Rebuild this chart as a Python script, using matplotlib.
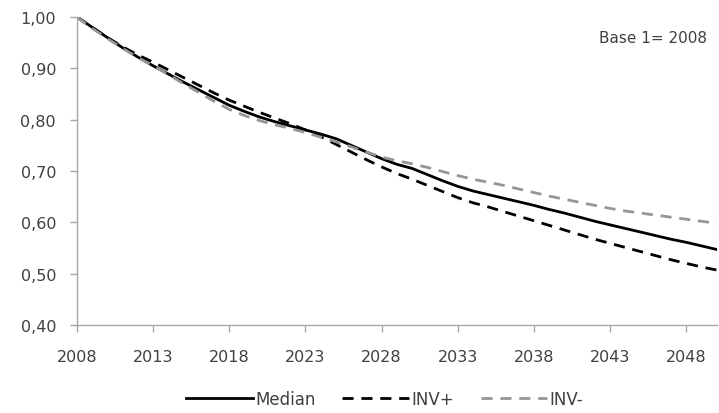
import numpy as np
import matplotlib
matplotlib.use("Agg")
import matplotlib.pyplot as plt

plt.rcParams['font.family'] = ['DejaVu Sans']

years = list(range(2008, 2051))

median = [1.000, 0.980, 0.960, 0.940, 0.922, 0.905, 0.889, 0.873, 0.858, 0.843,
          0.828, 0.816, 0.805, 0.796, 0.788, 0.780, 0.772, 0.763, 0.750, 0.737,
          0.724, 0.713, 0.705, 0.693, 0.681, 0.670, 0.661, 0.654, 0.647, 0.640,
          0.633, 0.625, 0.618, 0.610, 0.602, 0.595, 0.588, 0.581, 0.574, 0.567,
          0.561, 0.554, 0.547]

inv_plus = [1.000, 0.980, 0.960, 0.942, 0.926, 0.912, 0.897, 0.882, 0.867, 0.852,
            0.838, 0.826, 0.814, 0.803, 0.792, 0.780, 0.767, 0.752, 0.737, 0.722,
            0.708, 0.695, 0.684, 0.672, 0.660, 0.648, 0.638, 0.630, 0.621, 0.612,
            0.603, 0.594, 0.585, 0.576, 0.567, 0.559, 0.551, 0.543, 0.535, 0.527,
            0.520, 0.513, 0.507]

inv_minus = [1.000, 0.978, 0.958, 0.939, 0.921, 0.905, 0.888, 0.870, 0.853, 0.836,
             0.820, 0.808, 0.798, 0.790, 0.783, 0.775, 0.766, 0.757, 0.747, 0.737,
             0.727, 0.720, 0.714, 0.707, 0.699, 0.691, 0.684, 0.678, 0.672, 0.665,
             0.658, 0.651, 0.645, 0.639, 0.633, 0.627, 0.622, 0.618, 0.614, 0.610,
             0.606, 0.602, 0.598]

yticks = [0.4, 0.5, 0.6, 0.7, 0.8, 0.9, 1.0]
xticks = list(range(2008, 2051, 5))

txt = '#404040'
axc = '#a6a6a6'

fig = plt.figure(figsize=(7.19, 4.14), dpi=100)
ax = fig.add_axes([0.107, 0.2126, 0.890, 0.7439])

ax.plot(years, median, color='black', lw=2, label='Median')
ax.plot(years, inv_plus, color='black', lw=2, dashes=(4, 2.8), label='INV+')
ax.plot(years, inv_minus, color='#969696', lw=2, dashes=(4, 2.8), label='INV-')

ax.set_xlim(2008, 2050)
ax.set_ylim(0.4, 1.0)
ax.set_yticks(yticks)
ax.set_yticklabels([('%.2f' % v).replace('.', ',') for v in yticks])
ax.set_xticks(xticks)
ax.set_xticklabels([str(x) for x in xticks])

for s in ['top', 'right']:
    ax.spines[s].set_visible(False)
for s in ['left', 'bottom']:
    ax.spines[s].set_color(axc)
    ax.spines[s].set_linewidth(1)
ax.tick_params(axis='both', colors=axc, labelcolor=txt, labelsize=11.5,
               length=5, width=1)
ax.tick_params(axis='y', pad=10)
ax.tick_params(axis='x', pad=12)

ax.text(0.985, 0.935, 'Base 1= 2008', transform=ax.transAxes, ha='right',
        va='center', fontsize=11, color=txt)

fig.legend(loc='center', bbox_to_anchor=(0.535, 0.034), ncol=3, frameon=False,
           fontsize=12, handlelength=4, handletextpad=0.15, columnspacing=1.6,
           labelcolor=txt)

fig.savefig('out.png', dpi=100)
